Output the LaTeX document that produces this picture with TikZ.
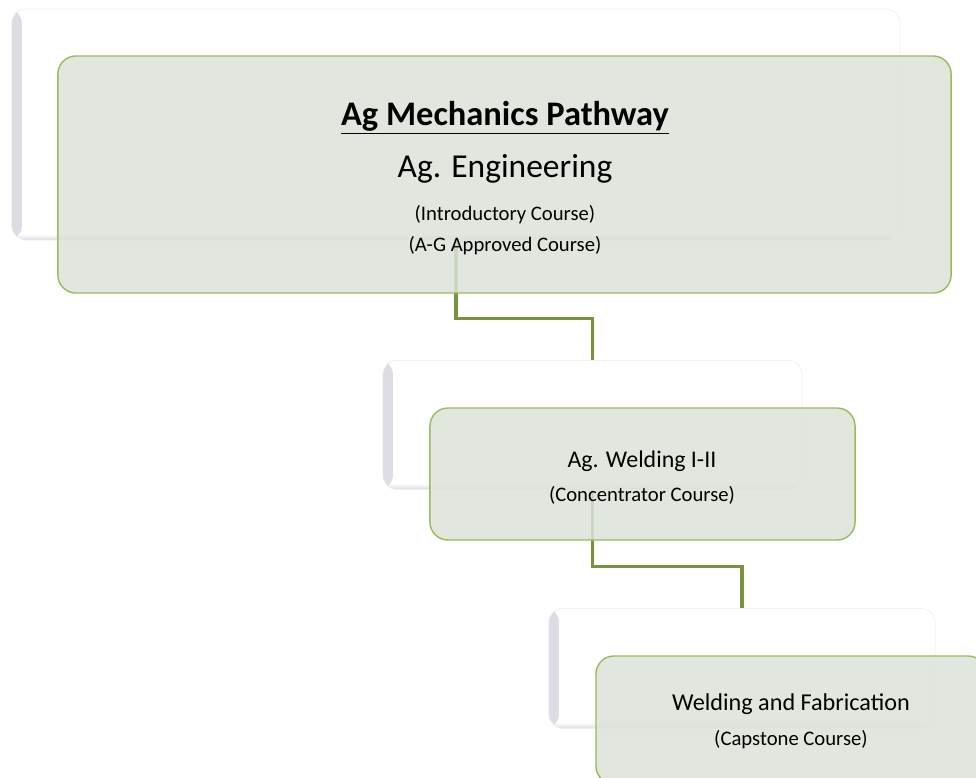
\documentclass[tikz,border=0pt]{standalone}
\usepackage{fontspec}
\setmainfont{Carlito}
\definecolor{boxfill}{HTML}{DCE2D9}
\definecolor{boxline}{HTML}{9BBB59}
\definecolor{linkgreen}{HTML}{77933C}
\definecolor{shadegray}{HTML}{DCDCE4}
\begin{document}
\begin{tikzpicture}[x=0.025cm,y=-0.025cm]
	\tikzstyle{back}=[rectangle,rounded corners=0.35cm,draw=black!7,fill=white,inner sep=0pt,
		path picture={\shade[left color=shadegray,right color=white] (path picture bounding box.south west) rectangle ([xshift=0.25cm]path picture bounding box.north west);
			\shade[bottom color=shadegray,top color=white] (path picture bounding box.south west) rectangle ([yshift=0.15cm]path picture bounding box.south east);}]
	\tikzstyle{course}=[rectangle,rounded corners=0.45cm,draw=boxline,line width=1pt,fill=boxfill,fill opacity=0.85,text opacity=1,inner sep=0pt]
	\tikzstyle{link}=[linkgreen,line width=2.2pt]
	\tikzstyle{txt}=[anchor=base,inner sep=0pt]
	\clip (0,0) rectangle (976,778);
	\node[back,minimum width=22.2cm,minimum height=5.775cm] (back1) at (456,124.5) {};
	\draw[link] (back1.south) -- ++(0,78) -| (592.5,360) coordinate (top2);
	\node[course,minimum width=22.325cm,minimum height=5.925cm] (box1) at (504.5,174.5) {};
	\node[txt] (title) at (505,125) {\fontsize{24.5}{29}\selectfont\bfseries\underline{Ag Mechanics Pathway}};
	\node[txt] (eng) at (505,177) {\fontsize{23.8}{28}\selectfont Ag. Engineering};
	\node[txt] (intro) at (505,220) {\fontsize{14.7}{17}\selectfont (Introductory Course)};
	\node[txt] (ag) at (505,251) {\fontsize{14.7}{17}\selectfont (A-G Approved Course)};
	\node[back,minimum width=10.475cm,minimum height=3.225cm,anchor=north] (back2) at (top2) {};
	\draw[link] (back2.south) -- ++(0,77) -| (742,608) coordinate (top3);
	\node[course,minimum width=10.625cm,minimum height=3.3cm] (box2) at (642.5,474) {};
	\node[txt] (weld) at (642,467) {\fontsize{17}{20}\selectfont Ag. Welding I-II};
	\node[txt] (conc) at (642,501) {\fontsize{14.7}{17}\selectfont (Concentrator Course)};
	\node[back,minimum width=9.65cm,minimum height=3cm,anchor=north] (back3) at (top3) {};
	\node[course,minimum width=9.75cm,minimum height=3.2cm] (box3) at (791,720) {};
	\node[txt] (fab) at (791,710) {\fontsize{17.2}{20}\selectfont Welding and Fabrication};
	\node[txt] (cap) at (791,745) {\fontsize{14.7}{17}\selectfont (Capstone Course)};
\end{tikzpicture}
\end{document}
